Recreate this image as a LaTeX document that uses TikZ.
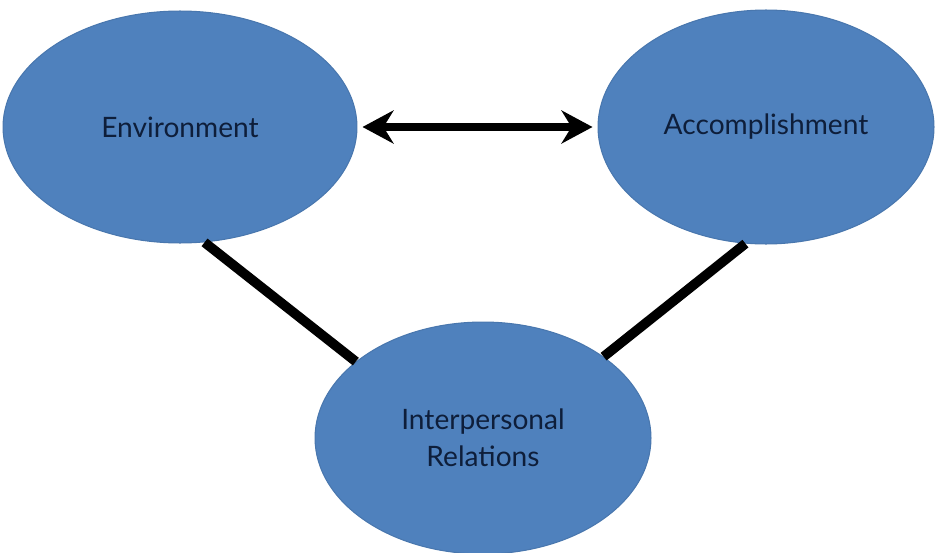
\documentclass[tikz,border=0pt]{standalone}
\usepackage{fontspec}
\setmainfont{Lato}
\usetikzlibrary{shapes,arrows.meta,positioning}
\definecolor{bubblefill}{HTML}{4F81BD}
\definecolor{bubbletext}{HTML}{0E1E3A}

\begin{document}
\begin{tikzpicture}[x=0.02cm, y=0.02cm,
    bubble/.style={ellipse, fill=bubblefill, draw=bubblefill!92!black, line width=0.6pt,
        text=bubbletext, font=\fontsize{16}{21}\selectfont, align=center, inner sep=0pt},
    link/.style={line width=5.5pt, black}]
    \useasboundingbox (0,0) rectangle (935,552);

    % Ellipses
    \node[bubble, minimum width=7.08cm, minimum height=4.64cm] (env) at (180,425) {Environment};
    \node[bubble, minimum width=6.72cm, minimum height=4.68cm] (acc) at (766,425) {Accomplishment};
    \node[bubble, minimum width=6.72cm, minimum height=4.64cm] (inter) at (483,114) {Interpersonal\\Relations};

    % Connectors
    \draw[link, line width=4.5pt, {Stealth[length=0.62cm,width=0.66cm,inset=0.2cm]}-{Stealth[length=0.62cm,width=0.66cm,inset=0.2cm]}]
        ([xshift=0.1cm]env.east) -- ([xshift=-0.1cm]acc.west);
    \draw[link] (env.-78) -- (inter.149);
    \draw[link] (acc.-100) -- (inter.34);
\end{tikzpicture}
\end{document}
